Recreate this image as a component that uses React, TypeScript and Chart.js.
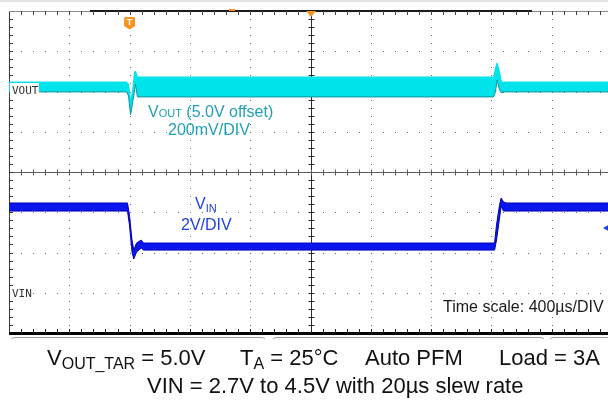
import React, { useEffect, useRef } from "react";
import { Chart, registerables } from "chart.js";

Chart.register(...registerables);

// Time axis (µs) – 400 µs/div, 10 divisions, trigger at 0
const timeMinUs = -2000;
const timeMaxUs = 2000;
const timePerDivUs = 400;

// VOUT trace (mV relative to the 5.0 V offset), 200 mV/div – noise envelope
const voutTime = [-2000, -1220, -1207, -1194, -1181, -1167, -1161, -1148, 1214, 1227, 1238, 1254, 1267, 1280, 2000];
const voutUpper = [47, 47, 37, -42, -2, 97, 102, 72, 72, 117, 142, 97, 47, 47, 47];
const voutLower = [-2, -2, -22, -117, -62, 8, 37, -27, -27, -2, 57, 8, -7, -2, -2];

// VIN trace (V), 2 V/div – envelope
const vinTime = [-2000, -1214, -1201, -1184, -1172, -1154, -1123, -1108, 1221, 1234, 1254, 1265, 1280, 1300, 2000];
const vinUpper = [4.46, 4.46, 3.86, 2.62, 2.12, 2.47, 2.62, 2.47, 2.47, 3.37, 4.36, 4.71, 4.51, 4.46, 4.46];
const vinLower = [4.06, 4.06, 3.37, 2.02, 1.68, 2.02, 2.22, 2.12, 2.12, 2.62, 3.71, 4.31, 4.06, 4.06, 4.06];

// Scales
const voutRangeMv = [-1200, 400];
const vinRangeV = [-2, 14];
const vinDivV = 2;
const triggerLevelV = 3.22;
const triggerEventUs = -1200;

const CYAN = "#00e3ea";
const CYAN_EDGE = "#13939a";
const BLUE = "#0a16ee";
const BLUE_EDGE = "#0000b8";
const TEAL_TEXT = "#22a0b4";
const BLUE_TEXT = "#1e3ee6";
const ORANGE = "#f7931e";
const FONT = '"Liberation Sans", Arial, sans-serif';

const scopePlugin = {
  id: "scope",
  beforeDatasetsDraw(chart: any) {
    const ctx = chart.ctx as CanvasRenderingContext2D;
    const x = chart.scales.x;
    const yv = chart.scales.yVin;
    const { left, right, top, bottom } = chart.chartArea;
    ctx.save();
    // top light strip
    ctx.fillStyle = "#e4e4e4";
    ctx.fillRect(0, 0, chart.width, 2);

    const minorY: number[] = [];
    for (let j = 1; j < 40; j++) minorY.push(Math.round(yv.getPixelForValue(vinRangeV[0] + j * vinDivV / 5)));
    const minorX: number[] = [];
    for (let i = 1; i < 50; i++) minorX.push(Math.round(x.getPixelForValue(timeMinUs + i * timePerDivUs / 5)));

    // dotted graticule
    ctx.fillStyle = "#6a6a6a";
    for (let k = 1; k < 10; k++) {
      if (k === 5) continue;
      const px = Math.round(x.getPixelForValue(timeMinUs + k * timePerDivUs));
      for (const py of minorY) ctx.fillRect(px, py, 1, 1);
    }
    for (let m = 1; m < 8; m++) {
      if (m === 4) continue;
      const py = Math.round(yv.getPixelForValue(vinRangeV[0] + m * vinDivV));
      for (const px of minorX) ctx.fillRect(px, py, 1, 1);
    }

    const line = (x1: number, y1: number, x2: number, y2: number) => {
      ctx.beginPath();
      ctx.moveTo(x1, y1);
      ctx.lineTo(x2, y2);
      ctx.stroke();
    };

    // center axes with minor ticks
    const cx = Math.round(x.getPixelForValue(0)) + 0.5;
    const cy = Math.round(yv.getPixelForValue(6)) + 0.5;
    ctx.lineWidth = 1;
    ctx.strokeStyle = "#2a2a2a";
    line(cx, top, cx, bottom);
    for (const py of minorY) line(cx - 3, py + 0.5, cx + 3, py + 0.5);
    ctx.strokeStyle = "#5a5a5a";
    line(left, cy, right, cy);
    for (const px of minorX) line(px + 0.5, cy - 3, px + 0.5, cy + 3);

    // borders
    ctx.strokeStyle = "#3a3a3a";
    line(left + 0.5, top, left + 0.5, bottom);
    for (const py of minorY) line(left, py + 0.5, left + 4, py + 0.5);
    ctx.strokeStyle = "#8a8a8a";
    line(left, top + 0.5, right, top + 0.5);
    ctx.strokeStyle = "#1a1a1a";
    ctx.lineWidth = 2;
    line(90, top, 532, top);
    ctx.lineWidth = 1;
    ctx.strokeStyle = "#444";
    for (const px of minorX) line(px + 0.5, top, px + 0.5, top + 4);
    ctx.fillStyle = "#000";
    ctx.fillRect(left, bottom - 1, right - left, 3);
    ctx.strokeStyle = "#222";
    for (const px of minorX) line(px + 0.5, bottom - 4, px + 0.5, bottom);

    // bottom bracket lines
    ctx.strokeStyle = "#9a9a9a";
    ctx.lineWidth = 1;
    const by = bottom + 4.5;
    const segs: [number, number][] = [[left + 2, 265], [273, 544], [550, chart.width]];
    for (const [a, b] of segs) {
      ctx.beginPath();
      ctx.moveTo(a, by + 1.5);
      ctx.quadraticCurveTo(a + 1, by, a + 4, by);
      ctx.lineTo(b - 4, by);
      ctx.quadraticCurveTo(b - 1, by, b, by + 1.5);
      ctx.stroke();
    }
    ctx.restore();
  },
  afterDatasetsDraw(chart: any) {
    const ctx = chart.ctx as CanvasRenderingContext2D;
    const x = chart.scales.x;
    const yv = chart.scales.yVin;
    const { top, right } = chart.chartArea;
    ctx.save();
    // trigger position triangle
    const tx = x.getPixelForValue(0) + 0.5;
    ctx.fillStyle = ORANGE;
    ctx.beginPath();
    ctx.moveTo(tx - 5, top);
    ctx.lineTo(tx + 5, top);
    ctx.lineTo(tx, top + 6);
    ctx.closePath();
    ctx.fill();
    // small orange mark on top border
    ctx.fillRect(229, top - 2, 6, 2);
    // T marker
    const mx = x.getPixelForValue(triggerEventUs);
    const my = top + 6;
    ctx.beginPath();
    ctx.moveTo(mx - 5.5, my + 1.5);
    ctx.quadraticCurveTo(mx - 5.5, my, mx - 4, my);
    ctx.lineTo(mx + 4, my);
    ctx.quadraticCurveTo(mx + 5.5, my, mx + 5.5, my + 1.5);
    ctx.lineTo(mx + 5.5, my + 9);
    ctx.lineTo(mx, my + 12.5);
    ctx.lineTo(mx - 5.5, my + 9);
    ctx.closePath();
    ctx.fill();
    ctx.fillStyle = "#fff";
    ctx.font = "bold 9px " + FONT;
    ctx.textAlign = "center";
    ctx.textBaseline = "middle";
    ctx.fillText("T", mx, my + 5.5);
    // trigger level arrow (VIN)
    const ly = yv.getPixelForValue(triggerLevelV);
    ctx.fillStyle = BLUE_TEXT;
    ctx.beginPath();
    ctx.moveTo(603, ly);
    ctx.lineTo(right, ly - 5);
    ctx.lineTo(right, ly + 5);
    ctx.closePath();
    ctx.fill();
    ctx.restore();
  },
};

const subStyle = (fs: number, dy: number): React.CSSProperties => ({
  fontSize: fs,
  position: "relative",
  top: dy,
  verticalAlign: "baseline",
});

const abs = (left: number, top: number, fs: number, color: string, extra: React.CSSProperties = {}): React.CSSProperties => ({
  position: "absolute",
  left,
  top,
  fontSize: fs,
  lineHeight: 1,
  color,
  fontFamily: FONT,
  whiteSpace: "nowrap",
  ...extra,
});

export default function App() {
  const ref = useRef<HTMLCanvasElement | null>(null);

  useEffect(() => {
    if (!ref.current) return;
    const chart = new Chart(ref.current, {
      type: "line",
      data: {
        datasets: [
          {
            label: "VOUT upper",
            data: voutTime.map((t, i) => ({ x: t, y: voutUpper[i] })),
            yAxisID: "yVout",
            borderColor: CYAN,
            borderWidth: 1,
            pointRadius: 0,
            fill: false,
          },
          {
            label: "VOUT lower",
            data: voutTime.map((t, i) => ({ x: t, y: voutLower[i] })),
            yAxisID: "yVout",
            borderColor: CYAN_EDGE,
            backgroundColor: CYAN,
            borderWidth: 1,
            pointRadius: 0,
            fill: "-1",
          },
          {
            label: "VIN upper",
            data: vinTime.map((t, i) => ({ x: t, y: vinUpper[i] })),
            yAxisID: "yVin",
            borderColor: BLUE_EDGE,
            borderWidth: 1,
            pointRadius: 0,
            fill: false,
          },
          {
            label: "VIN lower",
            data: vinTime.map((t, i) => ({ x: t, y: vinLower[i] })),
            yAxisID: "yVin",
            borderColor: BLUE_EDGE,
            backgroundColor: BLUE,
            borderWidth: 1,
            pointRadius: 0,
            fill: "-1",
          },
        ],
      },
      options: {
        animation: false,
        responsive: false,
        events: [],
        layout: { padding: { left: 9, top: 11, right: 4, bottom: 73 } },
        elements: { line: { tension: 0 } },
        plugins: { legend: { display: false }, tooltip: { enabled: false } },
        scales: {
          x: { type: "linear", min: timeMinUs, max: timeMaxUs, display: false },
          yVout: { type: "linear", min: voutRangeMv[0], max: voutRangeMv[1], display: false },
          yVin: { type: "linear", min: vinRangeV[0], max: vinRangeV[1], display: false },
        },
      },
      plugins: [scopePlugin],
    });
    return () => chart.destroy();
  }, []);

  return (
    <div
      style={{
        position: "fixed",
        left: 0,
        top: 0,
        width: 608,
        height: 406,
        overflow: "hidden",
        background: "#fff",
      }}
    >
      <canvas ref={ref} width={616} height={406} style={{ display: "block", position: "absolute", left: 0, top: 0 }} />

      {/* channel reference labels */}
      <div style={abs(10, 83, 11, "#333", { width: 29, height: 13, background: "#fff", fontFamily: '"DejaVu Sans Mono", monospace', paddingLeft: 2, boxSizing: "border-box", paddingTop: 2 })}>
        VOUT
      </div>
      <div style={abs(10, 287, 11, "#333", { background: "#fff", fontFamily: '"DejaVu Sans Mono", monospace', paddingLeft: 2, paddingTop: 1 })}>
        VIN
      </div>

      {/* trace annotations */}
      <div style={abs(148, 103.5, 16, TEAL_TEXT)}>
        V<span style={subStyle(11, 0)}>OUT</span> (5.0V offset)
      </div>
      <div style={abs(168, 122, 16, TEAL_TEXT)}>200mV/DIV</div>
      <div style={abs(195, 196, 16, BLUE_TEXT)}>
        V<span style={subStyle(11, 3)}>IN</span>
      </div>
      <div style={abs(181, 216.5, 16, BLUE_TEXT)}>2V/DIV</div>
      <div style={abs(443, 299, 16, "#1a1a1a")}>Time scale: 400µs/DIV</div>

      {/* caption */}
      <div style={abs(47, 347, 22, "#111")}>
        V<span style={subStyle(16, 4)}>OUT_TAR</span> = 5.0V
      </div>
      <div style={abs(240, 347, 22, "#111")}>
        T<span style={subStyle(16, 4)}>A</span> = 25°C
      </div>
      <div style={abs(365, 347, 22, "#111")}>Auto PFM</div>
      <div style={abs(499, 347, 22, "#111")}>Load = 3A</div>
      <div style={abs(147, 375, 22, "#111")}>VIN = 2.7V to 4.5V with 20µs slew rate</div>
    </div>
  );
}
